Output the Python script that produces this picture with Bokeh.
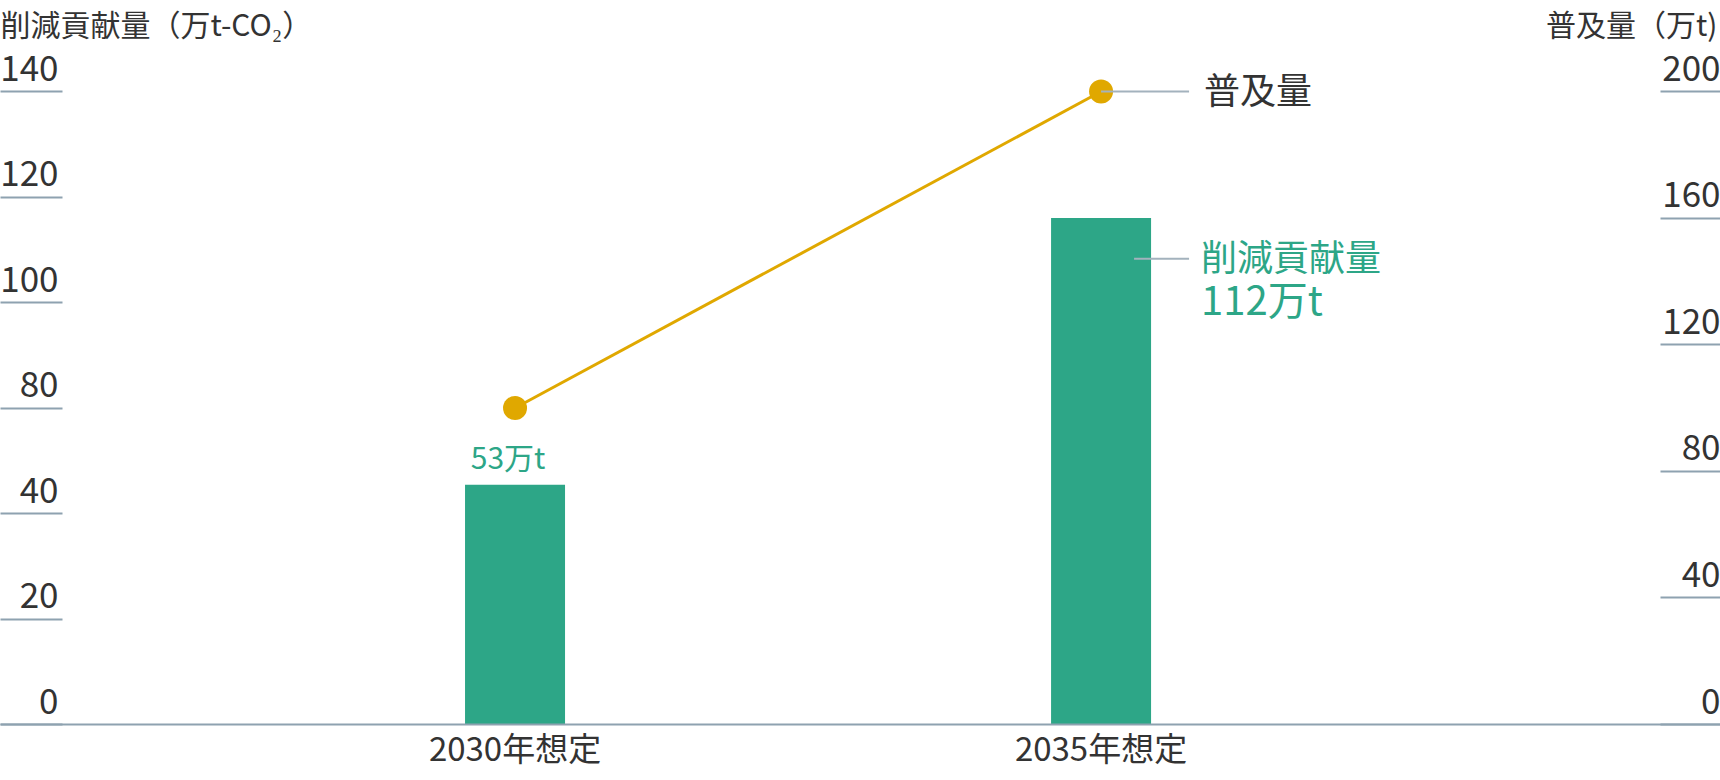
import numpy as np
from bokeh.plotting import figure
from bokeh.models import Range1d, LinearAxis, FixedTicker, Label, ColumnDataSource
from bokeh.embed import file_html
from bokeh.resources import INLINE

# ---------------- data ----------------
categories = ["2030年想定", "2035年想定"]
reduction = [53, 112]            # 削減貢献量 (万t-CO2)
diffusion = [100, 200]           # 普及量 (万t)
left_tick_labels = ["0", "20", "40", "80", "100", "120", "140"]
left_max = 140
right_tick_labels = ["0", "40", "80", "120", "160", "200"]
right_ticks = [0, 40, 80, 120, 160, 200]
right_max = 200
left_title = "削減貢献量（万t-CO₂）"
right_title = "普及量（万t)"
bar_name = "削減貢献量"
line_name = "普及量"

# ---------------- style / layout ----------------
FONT = "Noto Sans CJK JP"
GREEN = "#2da687"
GOLD = "#e0a800"
AXIS = "#8ea2b0"
LEAD = "#a3b2bd"
TEXT = "#333333"
W, H = 1720, 780
FRAME_BOTTOM = 724              # px from top where value 0 sits
TOP_TICK = 91                   # px from top where the top tick sits
x_start, x_end = -0.878, 2.057
PX = (x_end - x_start) / W       # data units per pixel (x)
scale = FRAME_BOTTOM / (FRAME_BOTTOM - TOP_TICK)

xs = list(range(len(categories)))

p = figure(width=W, height=H, output_backend="svg", toolbar_location=None,
           x_range=Range1d(x_start, x_end), y_range=Range1d(0, left_max * scale),
           x_axis_location=None, y_axis_location=None,
           min_border_left=0, min_border_right=0, min_border_top=0,
           min_border_bottom=H - FRAME_BOTTOM,
           outline_line_color=None, background_fill_color="white", border_fill_color="white")
p.grid.visible = False
p.extra_y_ranges = {"r": Range1d(0, right_max * scale)}

left_ticks = list(np.linspace(0, left_max, len(left_tick_labels)))

# left / right axes: tick lines only (drawn inward); labels drawn above the lines below
ly = LinearAxis(ticker=FixedTicker(ticks=left_ticks), axis_line_color=None,
                major_tick_in=62, major_tick_out=0, major_tick_line_color=AXIS,
                major_tick_line_width=2, minor_tick_line_color=None,
                major_label_overrides={t: "" for t in left_ticks},
                major_label_text_font_size="10px", major_label_standoff=0)
p.add_layout(ly, "left")
ry = LinearAxis(y_range_name="r", ticker=FixedTicker(ticks=right_ticks), axis_line_color=None,
                major_tick_in=60, major_tick_out=0, major_tick_line_color=AXIS,
                major_tick_line_width=2, minor_tick_line_color=None,
                major_label_overrides={t: "" for t in right_ticks},
                major_label_text_font_size="10px", major_label_standoff=0)
p.add_layout(ry, "right")

bx = LinearAxis(ticker=FixedTicker(ticks=xs),
                major_label_overrides={i: c for i, c in zip(xs, categories)},
                axis_line_color=AXIS, axis_line_width=2,
                major_tick_in=0, major_tick_out=0, minor_tick_line_color=None,
                major_label_standoff=-2, major_label_text_font=FONT,
                major_label_text_font_size="33px", major_label_text_color=TEXT)
p.add_layout(bx, "below")

# tick labels above tick lines
for t, lab in zip(left_ticks, left_tick_labels):
    p.add_layout(Label(x=x_start + 58 * PX, y=t, text=lab, text_align="right",
                       text_baseline="bottom", y_offset=11, text_font=FONT,
                       text_font_size="35px", text_color=TEXT))
for t, lab in zip(right_ticks, right_tick_labels):
    p.add_layout(Label(x=x_end, y=t, y_range_name="r", text=lab, text_align="right",
                       text_baseline="bottom", y_offset=11, x_offset=0, text_font=FONT,
                       text_font_size="35px", text_color=TEXT))

# axis titles
p.add_layout(Label(x=x_start, y=left_max * scale, text=left_title, text_align="left",
                   text_baseline="top", y_offset=0, text_font=FONT,
                   text_font_size="30px", text_color=TEXT))
p.add_layout(Label(x=x_end, y=right_max * scale, y_range_name="r", text=right_title,
                   text_align="right", text_baseline="top", y_offset=0, x_offset=-3,
                   text_font=FONT, text_font_size="30px", text_color=TEXT))

# bars
src = ColumnDataSource(dict(x=xs, top=reduction, d=diffusion))
p.vbar(x="x", top="top", width=100 * PX, bottom=0, source=src,
       fill_color=GREEN, line_color=None)

# line + markers
p.line(x="x", y="d", source=src, y_range_name="r", line_color=GOLD, line_width=3)
p.scatter(x="x", y="d", source=src, y_range_name="r", size=24,
          fill_color=GOLD, line_color=None)

# value label on first bar
p.add_layout(Label(x=xs[0], y=reduction[0], text=f"{reduction[0]}万t", text_align="center",
                   text_baseline="bottom", y_offset=7, x_offset=-7, text_font=FONT,
                   text_font_size="30px", text_color=GREEN))

# leader + label for line
p.segment(x0=[xs[1]], y0=[diffusion[1]], x1=[xs[1] + 88 * PX], y1=[diffusion[1]],
          y_range_name="r", line_color=LEAD, line_width=2)
p.add_layout(Label(x=xs[1] + 103 * PX, y=diffusion[1], y_range_name="r", text=line_name,
                   text_align="left", text_baseline="middle", y_offset=4, text_font=FONT,
                   text_font_size="36px", text_color=TEXT))

# leader + label for bar
ylead = 103
p.segment(x0=[xs[1] + 33 * PX], y0=[ylead], x1=[xs[1] + 88 * PX], y1=[ylead],
          line_color=LEAD, line_width=2)
p.add_layout(Label(x=xs[1] + 100 * PX, y=ylead, y_offset=4, text=bar_name,
                   text_align="left", text_baseline="middle", text_font=FONT,
                   text_font_size="36px", text_color=GREEN))
p.add_layout(Label(x=xs[1] + 100 * PX, y=ylead, y_offset=-39, text=f"{reduction[1]}万t",
                   text_align="left", text_baseline="middle", text_font=FONT,
                   text_font_size="40px", text_color=GREEN))

open("out.html", "w").write(file_html(p, INLINE))
